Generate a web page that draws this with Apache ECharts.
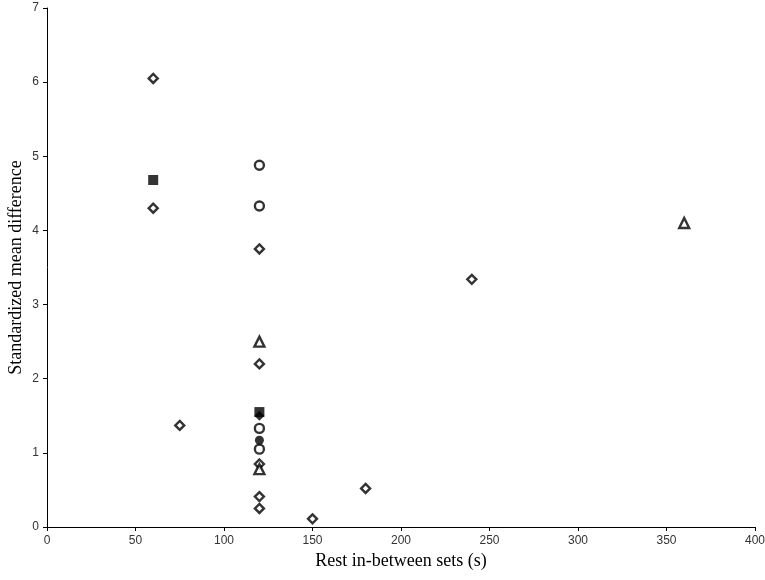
<!DOCTYPE html>
<html>
<head>
<meta charset="utf-8">
<script src="https://cdn.jsdelivr.net/npm/echarts@6/dist/echarts.min.js"></script>
<style>html,body{margin:0;padding:0;background:#fff}#c{width:765px;height:580px}</style>
</head>
<body>
<div id="c"></div>
<script>
// Data
const openDiamonds = [[60,6.05],[60,4.3],[75,1.37],[120,3.75],[120,2.2],[120,0.85],[120,0.41],[120,0.25],[150,0.11],[180,0.52],[240,3.34]];
const openCircles = [[120,4.88],[120,4.33],[120,1.33],[120,1.05]];
const openTriangles = [[120,2.5],[120,0.78],[360,4.1]];
const filledSquares = [[60,4.68],[120,1.55]];
const filledDiamonds = [[120,1.5]];
const filledCircles = [[120,1.17]];
const xTicks = {min:0, max:400, interval:50};
const yTicks = {min:0, max:7, interval:1};

const openStyle = {color:'#fff', borderColor:'#000', borderWidth:2.4};
const fillStyle = {color:'#000', borderColor:'#000', borderWidth:0};

const chart = echarts.init(document.getElementById('c'));
chart.setOption({
  animation:false,
  grid:{left:47, right:10, top:8, bottom:53, containLabel:false, outerBoundsMode:'none'},
  xAxis:{
    type:'value', min:xTicks.min, max:xTicks.max, interval:xTicks.interval,
    name:'Rest in-between sets (s)', nameLocation:'middle', nameGap:25, nameMoveOverlap:false,
    nameTextStyle:{fontFamily:'Liberation Serif', fontSize:18, color:'#000'},
    axisLine:{show:true, onZero:false, lineStyle:{color:'#000', width:1}},
    axisTick:{show:true, length:4, lineStyle:{color:'#000'}},
    axisLabel:{fontFamily:'Liberation Sans', fontSize:12, color:'#333', margin:8},
    splitLine:{show:false}
  },
  yAxis:{
    type:'value', min:yTicks.min, max:yTicks.max, interval:yTicks.interval,
    name:'Standardized mean difference', nameLocation:'middle', nameGap:22, nameMoveOverlap:false,
    nameTextStyle:{fontFamily:'Liberation Serif', fontSize:18, color:'#000'},
    axisLine:{show:true, onZero:false, lineStyle:{color:'#000', width:1}},
    axisTick:{show:true, length:4, lineStyle:{color:'#000'}},
    axisLabel:{fontFamily:'Liberation Sans', fontSize:12, color:'#333', margin:8},
    splitLine:{show:false}
  },
  series:[
    {type:'scatter', data:openDiamonds, symbol:'diamond', symbolSize:9, itemStyle:openStyle},
    {type:'scatter', data:openCircles, symbol:'circle', symbolSize:9, itemStyle:openStyle},
    {type:'scatter', data:openTriangles, symbol:'triangle', symbolSize:10, itemStyle:openStyle},
    {type:'scatter', data:filledCircles, symbol:'circle', symbolSize:9, itemStyle:fillStyle},
    {type:'scatter', data:filledDiamonds, symbol:'diamond', symbolSize:10, itemStyle:fillStyle},
    {type:'scatter', data:filledSquares, symbol:'rect', symbolSize:10, itemStyle:fillStyle}
  ]
});
</script>
</body>
</html>
